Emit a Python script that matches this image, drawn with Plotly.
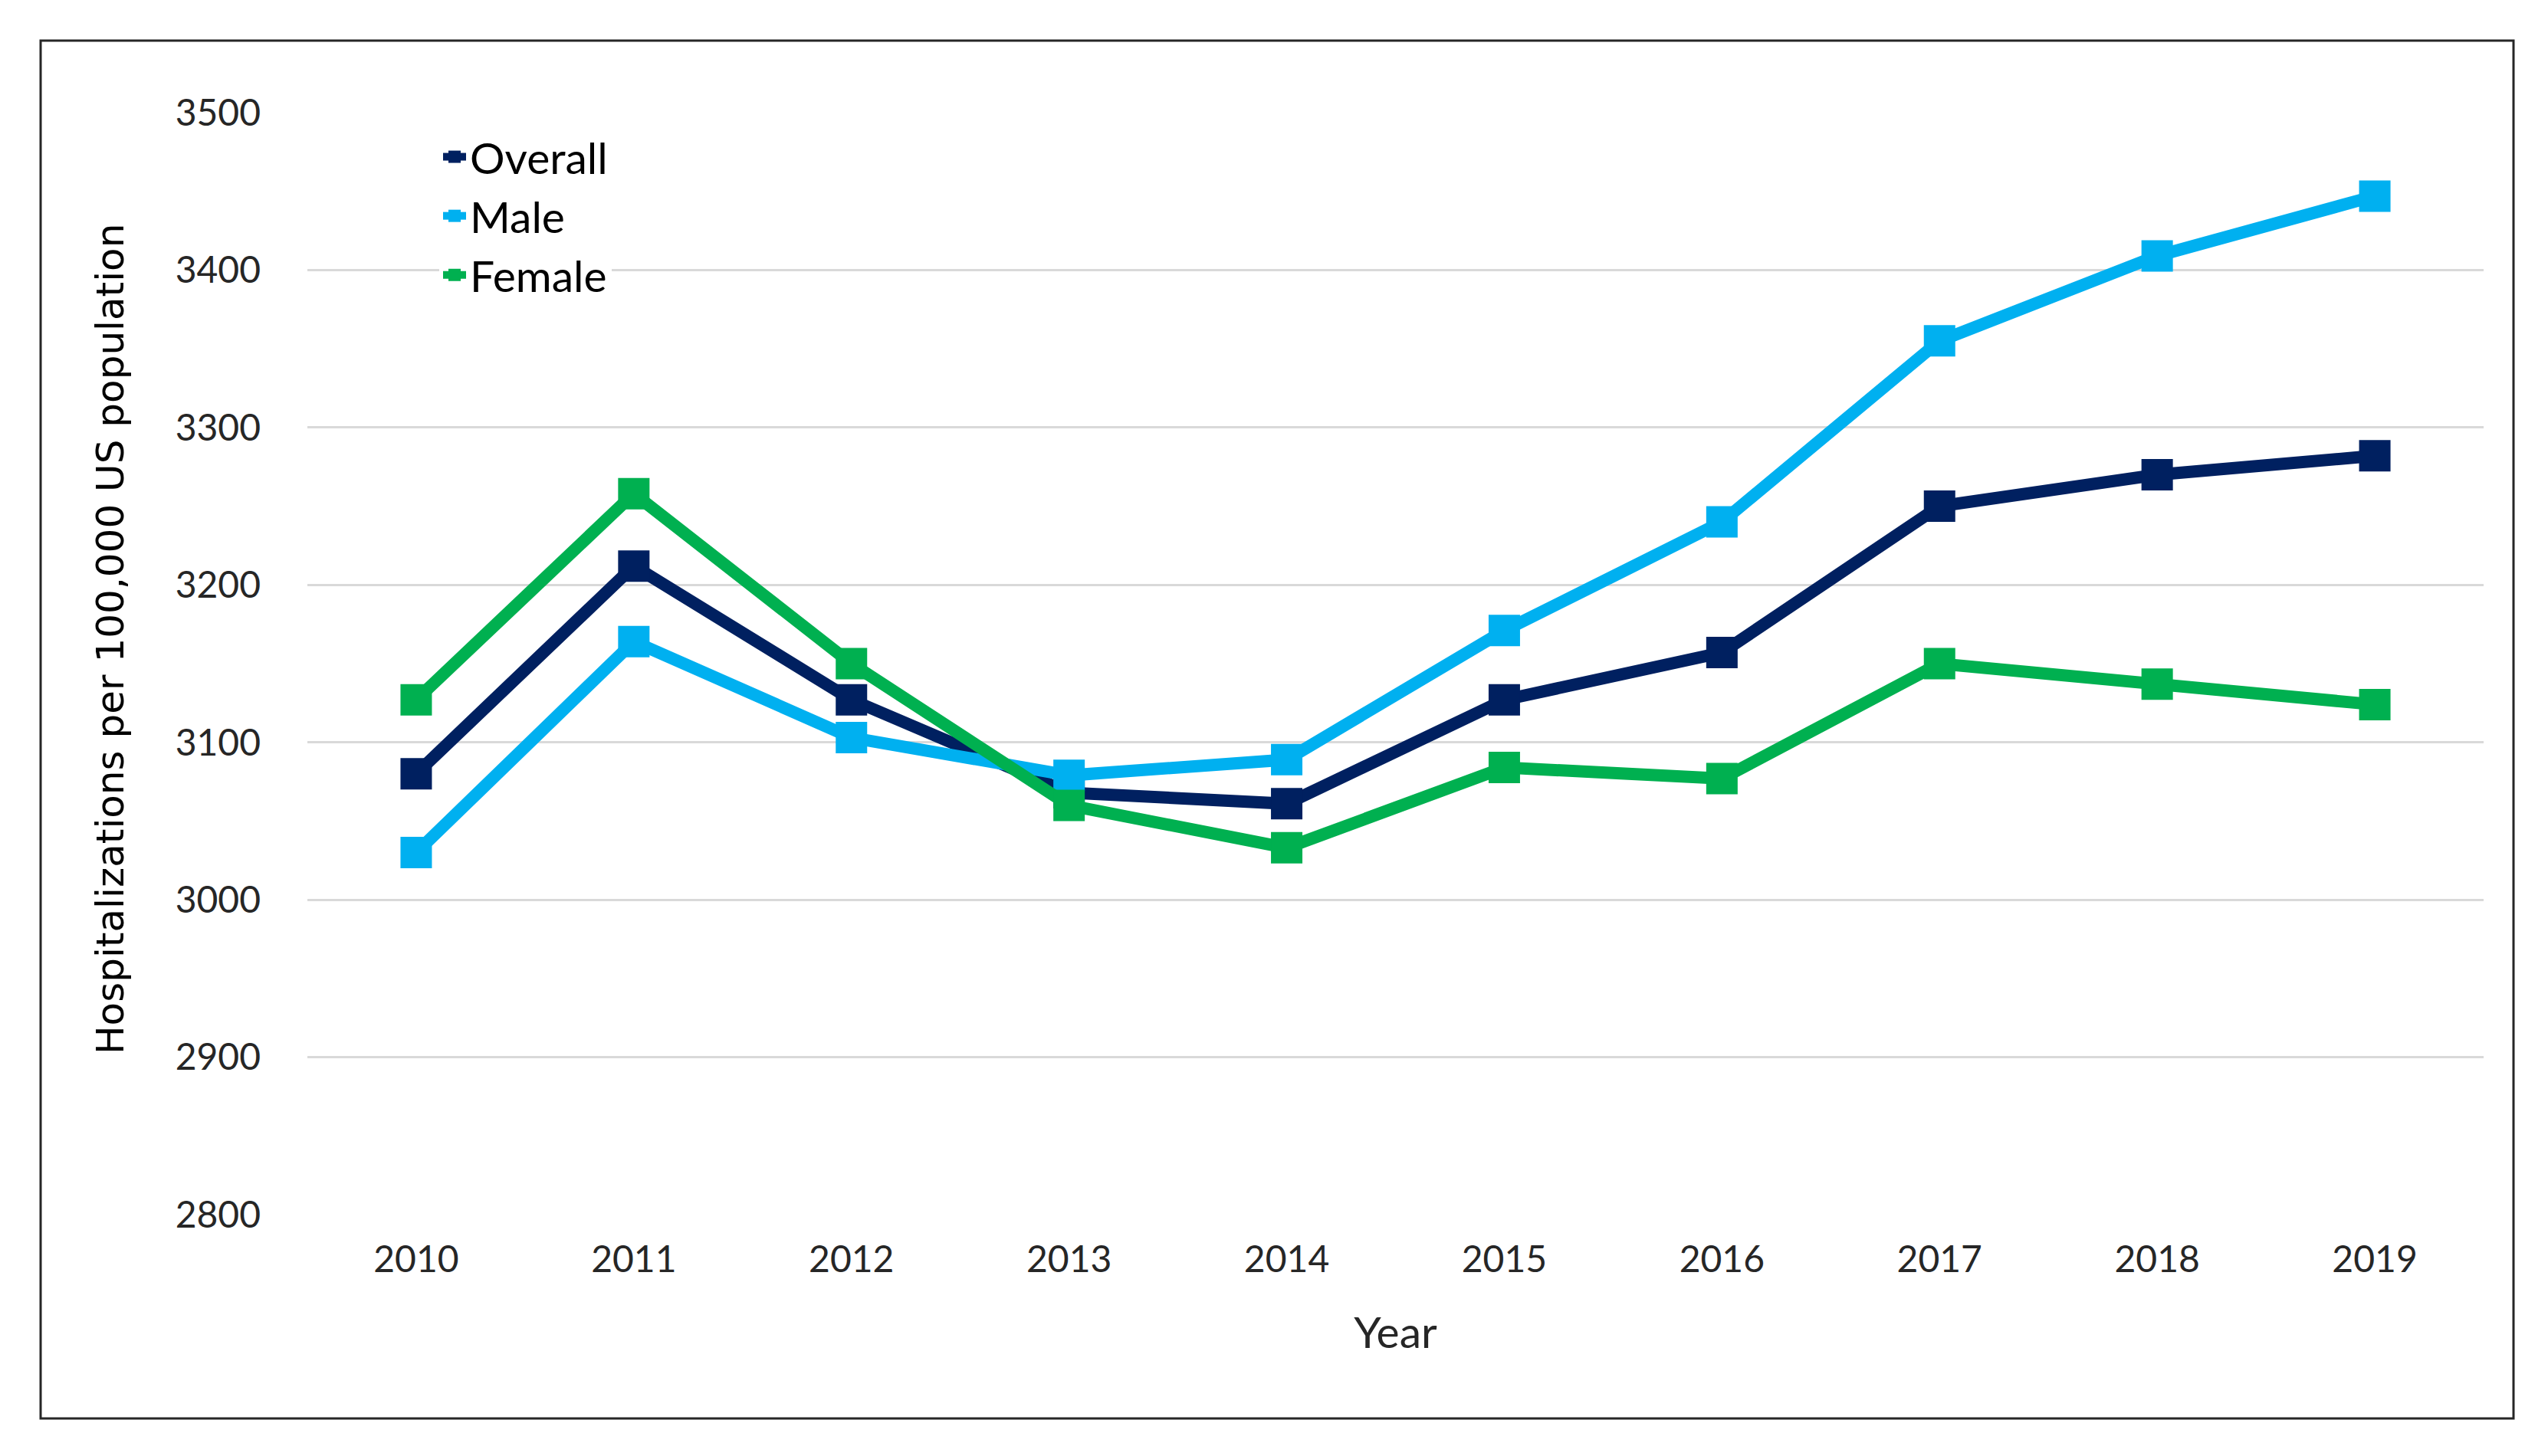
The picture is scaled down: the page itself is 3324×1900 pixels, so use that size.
import plotly.graph_objects as go

years = ["2010", "2011", "2012", "2013", "2014", "2015", "2016", "2017", "2018", "2019"]
overall = [3080, 3212, 3127, 3068, 3061, 3127, 3157, 3250, 3270, 3282]
male = [3030, 3164, 3103, 3079, 3089, 3171, 3240, 3355, 3409, 3447]
female = [3127, 3258, 3150, 3060, 3033, 3084, 3077, 3150, 3137, 3124]

series_names = ["Overall", "Male", "Female"]
series_values = [overall, male, female]
series_colors = ["#002060", "#00B0F0", "#00B050"]

y_ticks = [2800, 2900, 3000, 3100, 3200, 3300, 3400, 3500]
y_title = "Hospitalizations per 100,000 US population"
x_title = "Year"

W, H = 3324, 1900
L, R, T, B = 393, 92, 139, 323

fig = go.Figure()
for name, vals, col in zip(series_names, series_values, series_colors):
    fig.add_trace(go.Scatter(
        x=years, y=vals, name=name, mode="lines+markers",
        legendgroup=name,
        line=dict(color=col, width=16),
        marker=dict(symbol="square", size=41, color=col),
        cliponaxis=False,
    ))

pw = W - L - R
ph = H - T - B
def px_x(p):
    return (p - L) / pw
def px_y(p):
    return 1 - (p - T) / ph

fig.add_shape(type="rect", xref="paper", yref="paper",
              x0=px_x(45), x1=px_x(3271), y0=px_y(1843), y1=px_y(45),
              line=dict(color="#262626", width=3), fillcolor="rgba(0,0,0,0)",
              layer="below")

fig.add_annotation(
    text=y_title, xref="paper", yref="paper",
    x=px_x(136), y=px_y(826), xanchor="center", yanchor="middle",
    textangle=-90, showarrow=False,
    font=dict(size=50, color="#000000", family="DejaVu Sans, Verdana, sans-serif"),
)

fig.update_layout(
    width=W, height=H,
    margin=dict(l=L, r=R, t=T, b=B, autoexpand=False),
    paper_bgcolor="white", plot_bgcolor="white",
    font=dict(family="Lato, Carlito, sans-serif", color="#262626"),
    showlegend=True,
    legend=dict(
        x=px_x(565), y=px_y(153), xanchor="left", yanchor="top",
        bgcolor="white", borderwidth=0,
        font=dict(size=57, color="#000000", family="Lato, sans-serif"),
        tracegroupgap=0, itemsizing="trace",
    ),
    xaxis=dict(
        type="category", range=[-0.5, 9.5],
        showgrid=False, zeroline=False, showline=False, ticks="",
        tickfont=dict(size=48, color="#262626"),
        ticklabelstandoff=26,
        title=dict(text=x_title, font=dict(size=57, color="#262626"), standoff=50),
        automargin=False,
    ),
    yaxis=dict(
        range=[2800, 3500], tickvals=y_ticks,
        showgrid=True, gridcolor="#D9D9D9", gridwidth=2.5,
        zeroline=False, showline=False, ticks="",
        tickfont=dict(size=48, color="#262626"),
        ticklabelstandoff=60,
        automargin=False,
    ),
)

fig.write_html("out.html")
